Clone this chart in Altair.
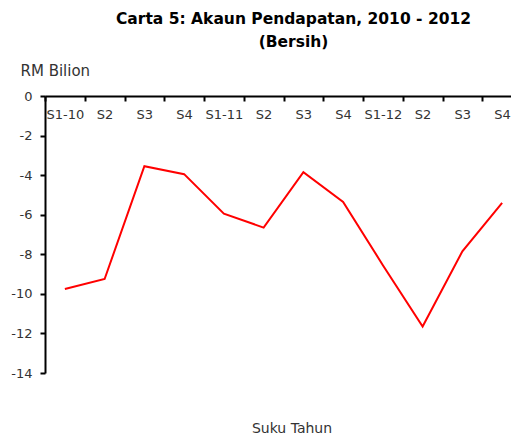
import altair as alt
import pandas as pd

# Data
quarters = list(range(12))
quarter_labels = ["S1-10", "S2", "S3", "S4", "S1-11", "S2", "S3", "S4",
                  "S1-12", "S2", "S3", "S4"]
net_income = [-9.75, -9.25, -3.55, -3.95, -5.95, -6.65, -3.85, -5.35,
              -8.55, -11.65, -7.85, -5.4]
y_ticks = [-14, -12, -10, -8, -6, -4, -2, 0]
title_lines = ["Carta 5: Akaun  Pendapatan,  2010 - 2012", "(Bersih)"]
y_title = "RM Bilion"
x_title = ["Suku Tahun"]

df = pd.DataFrame({"q": quarters, "v": net_income})
df_xt = pd.DataFrame({"t": x_title})

W, H = 477, 277
FONT = "DejaVu Sans"
label_expr = "[" + ",".join("'" + s + "'" for s in quarter_labels) + "][datum.value]"

line = alt.Chart(df).mark_line(color="#FF0000", strokeWidth=2).encode(
    x=alt.X(
        "q:O",
        bandPosition=0.5,
        scale=alt.Scale(type="band", paddingInner=0, paddingOuter=0),
        axis=alt.Axis(
            orient="bottom", offset=-H, title=None, labelExpr=label_expr,
            labelAngle=0, tickBand="extent", tickSize=5, tickWidth=2,
            tickColor="black", domainColor="black", domainWidth=2,
            labelPadding=7, labelFont=FONT, labelFontSize=13,
            labelColor="#333333", grid=False,
        ),
    ),
    y=alt.Y(
        "v:Q",
        scale=alt.Scale(domain=[-14, 0], nice=False, zero=False),
        axis=alt.Axis(
            values=y_ticks, labelExpr="toString(datum.value)",
            title=y_title, titleAngle=0, titleAlign="left",
            titleBaseline="middle", titleX=-25, titleY=-26,
            titleFont=FONT, titleFontSize=15, titleFontWeight="normal",
            titleColor="#333333", tickSize=5, tickWidth=2, tickColor="black",
            domainColor="black", domainWidth=2, labelPadding=8,
            labelFont=FONT, labelFontSize=13, labelColor="#333333", grid=False,
        ),
    ),
)

xlab = alt.Chart(df_xt).mark_text(
    font=FONT, fontSize=14, color="#333333", align="center", baseline="middle"
).encode(text="t:N", x=alt.value(247), y=alt.value(333))

chart = alt.layer(line, xlab).properties(
    width=W,
    height=H,
    autosize=alt.AutoSizeParams(type="none"),
    padding={"left": 37, "top": 88, "right": -11, "bottom": 62},
    title=alt.TitleParams(
        title_lines, font=FONT, fontSize=15.5, fontWeight="bold", color="black",
        anchor="middle", frame="group", dx=10, offset=13, lineHeight=23,
    ),
).configure_view(stroke=None)

chart.save("out.html", embed_options={"renderer": "svg", "actions": False})
